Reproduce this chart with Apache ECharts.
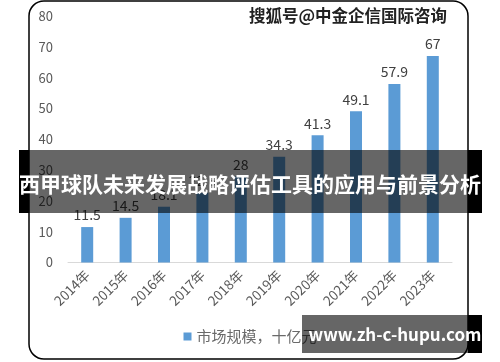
<!DOCTYPE html>
<html>
<head>
<meta charset="utf-8">
<script src="https://cdn.jsdelivr.net/npm/echarts@6/dist/echarts.min.js"></script>
<style>html,body{margin:0;padding:0;background:#fff;}#c{width:500px;height:362px;}</style>
</head>
<body>
<div id="c"></div>
<script>
var categories = ['2014年','2015年','2016年','2017年','2018年','2019年','2020年','2021年','2022年','2023年'];
var marketSize = [11.5, 14.5, 18.1, 22.6, 28, 34.3, 41.3, 49.1, 57.9, 67];
var yTicks = [0, 10, 20, 30, 40, 50, 60, 70, 80];
var seriesName = '市场规模，十亿元';
var titleText = '西甲球队未来发展战略评估工具的应用与前景分析';
var watermark = '搜狐号@中金企信国际咨询';
var siteText = 'www.zh-c-hupu.com';

var FONT = '"Noto Sans CJK SC", "Noto Sans", sans-serif';
var chart = echarts.init(document.getElementById('c'), null, {renderer: 'canvas'});
chart.setOption({
  animation: false,
  backgroundColor: '#ffffff',
  textStyle: {fontFamily: FONT},
  grid: {left: 68, right: 48, top: 16, bottom: 99.5, containLabel: false},
  legend: {
    bottom: 13, left: 'center',
    itemWidth: 8, itemHeight: 8, itemGap: 6,
    icon: 'rect',
    textStyle: {color: '#6a6a6a', fontSize: 15, fontFamily: FONT},
    data: [seriesName]
  },
  xAxis: {
    type: 'category',
    data: categories,
    axisLine: {lineStyle: {color: '#d9d9d9', width: 1}},
    axisTick: {show: false},
    axisLabel: {rotate: 45, color: '#595959', fontSize: 13.5, margin: 10, fontFamily: FONT}
  },
  yAxis: {
    type: 'value',
    min: yTicks[0], max: yTicks[yTicks.length - 1], interval: 10,
    axisLine: {show: false},
    axisTick: {show: false},
    splitLine: {show: false},
    axisLabel: {color: '#595959', fontSize: 13, margin: 15, fontFamily: FONT}
  },
  series: [{
    name: seriesName,
    type: 'bar',
    data: marketSize,
    barWidth: 12,
    itemStyle: {color: '#5b9bd5'},
    label: {show: true, position: 'top', distance: 5, color: '#404040', fontSize: 14, fontFamily: FONT}
  }],
  graphic: [
    {type: 'rect', z: 50, silent: true,
     shape: {x: 29, y: 1, width: 439, height: 358, r: 15},
     style: {fill: 'none', stroke: '#000', lineWidth: 1.5}},
    {type: 'text', z: 60, silent: true, left: 248, top: 6,
     style: {text: watermark, font: 'bold 16.5px ' + FONT, fill: '#222', stroke: '#fff', lineWidth: 2}},
    {type: 'rect', z: 100, silent: true, shape: {x: 19, y: 150, width: 10, height: 63}, style: {fill: '#000'}},
    {type: 'rect', z: 100, silent: true, shape: {x: 468, y: 150, width: 14, height: 63}, style: {fill: '#000'}},
    {type: 'rect', z: 100, silent: true, shape: {x: 29, y: 150, width: 439, height: 63}, style: {fill: 'rgba(0,0,0,0.6)'}},
    {type: 'text', z: 101, silent: true, x: 250, y: 184,
     style: {text: titleText, font: 'bold 21px ' + FONT, fill: '#fff', align: 'center', verticalAlign: 'middle'}},
    {type: 'rect', z: 100, silent: true, shape: {x: 468, y: 315, width: 14, height: 38}, style: {fill: '#000'}},
    {type: 'rect', z: 100, silent: true, shape: {x: 302, y: 315, width: 166, height: 38}, style: {fill: 'rgba(0,0,0,0.6)'}},
    {type: 'text', z: 101, silent: true, x: 395, y: 335,
     style: {text: siteText, font: 'bold 17px ' + FONT, fill: '#fff', align: 'center', verticalAlign: 'middle'}}
  ]
});
</script>
</body>
</html>
